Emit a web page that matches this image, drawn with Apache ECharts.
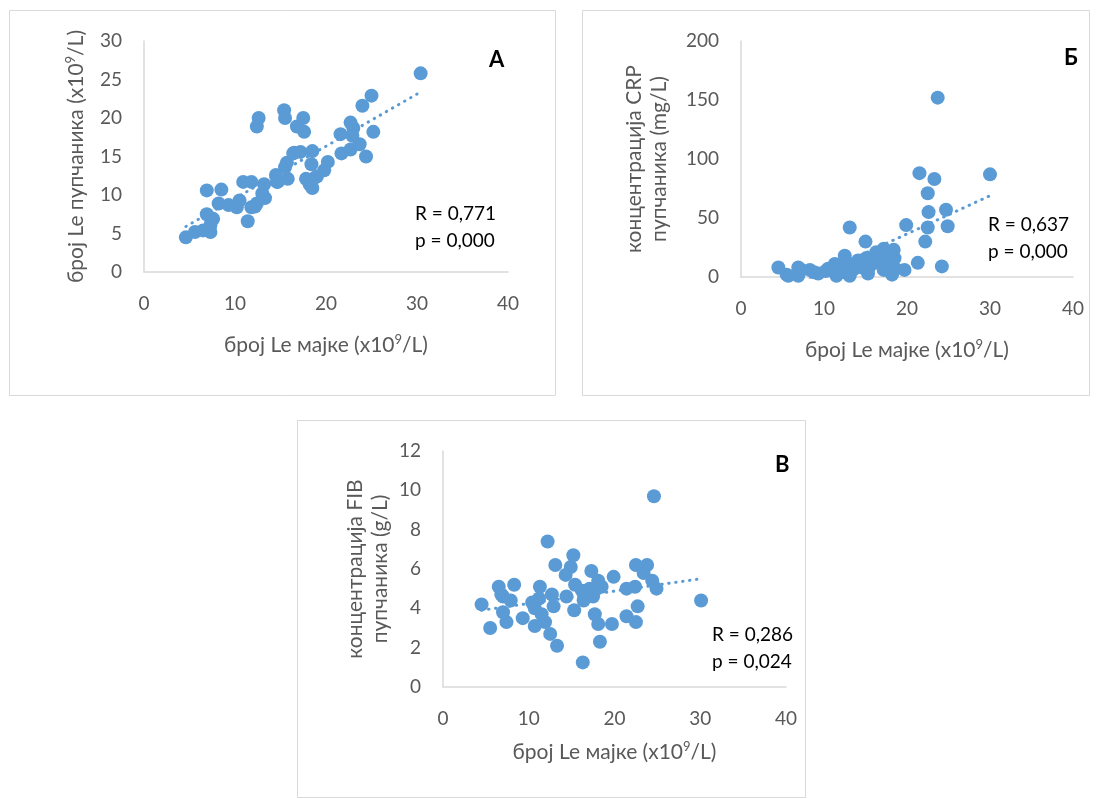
<!DOCTYPE html>
<html>
<head>
<meta charset="utf-8">
<script src="https://cdn.jsdelivr.net/npm/echarts@6/dist/echarts.min.js"></script>
<style>
  html, body { margin: 0; padding: 0; background: #ffffff; }
  #chart { width: 1099px; height: 798px; }
</style>
</head>
<body>
<div id="chart"></div>
<script>
// Panel А: mother's leukocyte count vs. umbilical cord leukocyte count
const aX = [4.6,5.6,6.5,7.3,7.3,6.9,7.6,6.9,8.5,8.2,9.3,10.2,10.5,11.4,10.9,11.8,11.8,12.4,13.2,13.3,13.0,12.4,12.6,14.5,14.7,15.5,15.8,15.7,15.4,15.5,16.5,17.2,16.8,17.5,17.6,17.8,18.2,18.5,18.6,18.5,18.4,19.8,20.2,21.7,21.6,22.7,22.9,23.0,22.7,23.7,24.0,25.0,25.2,24.4,30.4,16.4,19.0,12.2,14.6,7.4];
const aY = [4.5,5.2,5.4,5.2,6.1,7.5,6.9,10.6,10.7,8.9,8.7,8.4,9.3,6.6,11.7,11.7,8.4,8.9,11.4,9.6,10.2,18.9,20.0,12.6,11.7,13.6,12.1,14.2,21.0,20.0,15.5,15.6,18.9,20.0,18.2,12.1,11.4,10.9,12.1,15.7,14.0,13.2,14.3,15.4,17.9,19.4,17.7,18.7,15.9,16.6,21.6,22.9,18.2,15.0,25.8,15.4,12.4,8.5,11.7,6.8];

// Panel Б: mother's leukocyte count vs. cord CRP concentration
const bX = [4.5,5.5,5.7,6.9,6.9,7.3,8.3,8.8,9.3,10.2,10.5,10.9,11.3,11.5,11.8,12.4,12.5,12.8,13.1,13.1,13.5,14.1,14.6,15.0,15.1,15.3,15.5,15.7,16.3,16.5,16.8,17.2,17.2,17.5,17.8,18.2,18.4,18.6,18.5,19.7,19.9,21.3,21.5,22.2,22.5,22.5,22.6,23.3,23.7,24.2,24.7,24.9,30.0];
const bY = [8,2,1,8,1,6,6,4,3,5,7,6,11,1,9,4,18,12,42,1,6,14,8,30,16,3,9,12,21,12,17,24,6,10,14,2,23,7,16,6,44,12,88,30,42,71,55,83,152,9,57,43,87];

// Panel В: mother's leukocyte count vs. cord fibrinogen concentration
const cX = [24.6,30.1,12.2,15.2,13.1,14.9,14.3,17.3,19.9,22.5,23.8,23.4,24.4,24.9,22.4,21.4,6.5,8.3,7.0,7.9,4.5,7.0,7.4,5.5,9.3,10.4,11.3,10.7,11.5,10.7,11.9,12.5,13.3,12.7,12.9,14.4,15.4,16.2,15.3,16.4,17.1,17.5,18.1,18.5,17.7,18.1,18.3,16.3,19.7,21.4,22.7,22.5,11.2,6.8];
const cY = [9.7,4.4,7.4,6.7,6.2,6.1,5.7,5.9,5.6,6.2,6.2,5.8,5.4,5.0,5.1,5.0,5.1,5.2,4.6,4.4,4.2,3.8,3.3,3.0,3.5,4.3,5.1,4.0,3.7,3.1,3.3,2.7,2.1,4.7,4.1,4.6,5.2,4.9,3.9,4.4,5.0,4.6,5.4,5.1,3.7,3.2,2.3,1.25,3.2,3.6,4.1,3.3,4.5,4.7];

// Axis ticks and annotation texts
const xTicks = { min: 0, max: 40, interval: 10 };
const aTicks = { min: 0, max: 30, interval: 5 };
const bTicks = { min: 0, max: 200, interval: 50 };
const cTicks = { min: 0, max: 12, interval: 2 };
const panelLetters = ['A', 'Б', 'В'];
const statsA = ['R = 0,771', 'p = 0,000'];
const statsB = ['R = 0,637', 'p = 0,000'];
const statsC = ['R = 0,286', 'p = 0,024'];
// {sup|…} marks the superscript exponent
const xName = 'број Le мајке (x10{sup|9}/L)';
const yNameA = 'број Le пупчаника (x10{sup|9}/L)';
const yNameB = 'концентрација CRP\nпупчаника (mg/L)';
const yNameC = 'концентрација FIB\nпупчаника (g/L)';

const BLUE = '#5B9BD5';
const FONT = 'Lato, "Noto Sans", sans-serif';
const AXIS_GREY = '#D9D9D9';
const LABEL_GREY = '#595959';

function zip(xs, ys) { return xs.map((x, i) => [x, ys[i]]); }

// Least-squares linear trend between the smallest and largest x
function trend(xs, ys) {
  const n = xs.length;
  const mx = xs.reduce((s, v) => s + v, 0) / n;
  const my = ys.reduce((s, v) => s + v, 0) / n;
  let sxy = 0, sxx = 0;
  for (let i = 0; i < n; i++) { sxy += (xs[i] - mx) * (ys[i] - my); sxx += (xs[i] - mx) * (xs[i] - mx); }
  const k = sxy / sxx, b = my - k * mx;
  const x0 = Math.min(...xs), x1 = Math.max(...xs);
  return [[x0, k * x0 + b], [x1, k * x1 + b]];
}

const nameStyle = {
  color: LABEL_GREY, fontSize: 21, fontFamily: FONT, lineHeight: 25,
  rich: { sup: { color: LABEL_GREY, fontSize: 13, fontFamily: FONT, lineHeight: 14, verticalAlign: 'top' } }
};

function xAxis(gridIndex, gap) {
  return {
    type: 'value', gridIndex, ...xTicks,
    name: xName, nameLocation: 'middle', nameGap: gap,
    nameTextStyle: nameStyle,
    axisLine: { show: true, lineStyle: { color: AXIS_GREY, width: 1.5 } },
    axisTick: { show: false }, splitLine: { show: false },
    axisLabel: { color: LABEL_GREY, fontSize: 19, fontFamily: FONT, margin: 22 }
  };
}
function yAxis(gridIndex, ticks, name, gap) {
  return {
    type: 'value', gridIndex, ...ticks,
    name, nameLocation: 'middle', nameGap: gap, nameRotate: 90,
    nameTextStyle: nameStyle,
    axisLine: { show: true, lineStyle: { color: AXIS_GREY, width: 1.5 } },
    axisTick: { show: false }, splitLine: { show: false },
    axisLabel: { color: LABEL_GREY, fontSize: 19, fontFamily: FONT, margin: 22 }
  };
}
function scatter(idx, xs, ys) {
  return {
    type: 'scatter', xAxisIndex: idx, yAxisIndex: idx,
    data: zip(xs, ys), symbolSize: 14,
    itemStyle: { color: BLUE, opacity: 1 }, z: 2
  };
}
function trendLine(idx, xs, ys) {
  return {
    type: 'line', xAxisIndex: idx, yAxisIndex: idx,
    data: trend(xs, ys), symbol: 'none', clip: true,
    lineStyle: { color: BLUE, width: 3, type: [0.5, 6.5], cap: 'round' }, z: 3
  };
}

function box(x, y, w, h) {
  return { type: 'rect', shape: { x: x + 0.5, y: y + 0.5, width: w, height: h },
           style: { fill: 'none', stroke: AXIS_GREY, lineWidth: 1 }, silent: true };
}
function txt(x, y, text, opts) {
  return { type: 'text', x, y,
           style: Object.assign({ text, fill: '#000000', fontFamily: FONT, fontSize: 19,
                                  textVerticalAlign: 'middle' }, opts || {}) };
}

const chart = echarts.init(document.getElementById('chart'), null, { renderer: 'canvas' });
chart.setOption({
  animation: false,
  backgroundColor: '#ffffff',
  grid: [
    { left: 144, top: 41, width: 364, height: 231 },
    { left: 741, top: 41, width: 332, height: 236 },
    { left: 443, top: 451, width: 343, height: 236 }
  ],
  xAxis: [xAxis(0, 61), xAxis(1, 61), xAxis(2, 53)],
  yAxis: [yAxis(0, aTicks, yNameA, 55), yAxis(1, bTicks, yNameB, 69), yAxis(2, cTicks, yNameC, 50)],
  series: [
    scatter(0, aX, aY), trendLine(0, aX, aY),
    scatter(1, bX, bY), trendLine(1, bX, bY),
    scatter(2, cX, cY), trendLine(2, cX, cY)
  ],
  graphic: [
    box(9, 10, 546, 385),
    box(582, 10, 507, 385),
    box(297, 420, 508, 377),
    txt(489, 60, panelLetters[0], { fontSize: 22, fontWeight: 'bold' }),
    txt(1064, 58, panelLetters[1], { fontSize: 22, fontWeight: 'bold' }),
    txt(775, 465, panelLetters[2], { fontSize: 22, fontWeight: 'bold' }),
    txt(415, 214, statsA[0]), txt(415, 241, statsA[1]),
    txt(988, 225, statsB[0]), txt(988, 252, statsB[1]),
    txt(712, 635, statsC[0]), txt(712, 662, statsC[1])
  ]
});
</script>
</body>
</html>
